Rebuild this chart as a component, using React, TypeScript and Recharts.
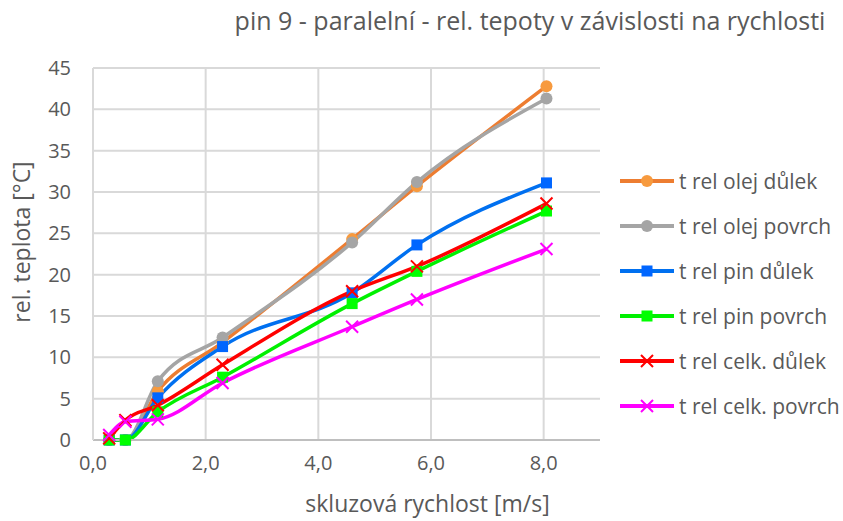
import { CartesianGrid, Label, Legend, Line, LineChart, XAxis, YAxis } from "recharts";

// skluzová rychlost [m/s]
const speeds = [0.2875, 0.575, 1.15, 2.3, 4.6, 5.75, 8.05];

// rel. teplota [°C]
const olejDulek = [0, 0, 5.9, 11.8, 24.3, 30.7, 42.8];
const olejPovrch = [0, 0, 7.1, 12.4, 23.9, 31.2, 41.3];
const pinDulek = [0, 0, 5.1, 11.3, 17.8, 23.6, 31.1];
const pinPovrch = [0, 0, 3.4, 7.6, 16.5, 20.4, 27.7];
const celkDulek = [0.2, 2.4, 4.2, 9.1, 18.0, 21.0, 28.6];
const celkPovrch = [0.6, 2.2, 2.5, 6.9, 13.7, 17.0, 23.1];

const xTicks = [0, 2, 4, 6, 8];
const yTicks = [0, 5, 10, 15, 20, 25, 30, 35, 40, 45];

const title = "pin 9 - paralelní - rel. tepoty v závislosti na rychlosti";
const xTitle = "skluzová rychlost [m/s]";
const yTitle = "rel. teplota [°C]";

type Shape = "circle" | "square" | "cross";

const series: { key: string; name: string; color: string; marker: string; shape: Shape; values: number[] }[] = [
  { key: "olejDulek", name: "t rel olej důlek", color: "#ED7D31", marker: "#F79A3E", shape: "circle", values: olejDulek },
  { key: "olejPovrch", name: "t rel olej povrch", color: "#A5A5A5", marker: "#A5A5A5", shape: "circle", values: olejPovrch },
  { key: "pinDulek", name: "t rel pin důlek", color: "#0070F0", marker: "#0066FF", shape: "square", values: pinDulek },
  { key: "pinPovrch", name: "t rel pin povrch", color: "#00F000", marker: "#00FF00", shape: "square", values: pinPovrch },
  { key: "celkDulek", name: "t rel celk. důlek", color: "#FF0000", marker: "#FF0000", shape: "cross", values: celkDulek },
  { key: "celkPovrch", name: "t rel celk. povrch", color: "#FF00FF", marker: "#FF00FF", shape: "cross", values: celkPovrch },
];

const rows = speeds.map((x, i) => {
  const row: Record<string, number> = { x };
  for (const s of series) row[s.key] = s.values[i];
  return row;
});

const FONT = "'Open Sans', sans-serif";
const TEXT = "#595959";

function Marker({ shape, cx, cy, color }: { shape: Shape; cx: number; cy: number; color: string }) {
  if (shape === "circle") return <circle cx={cx} cy={cy} r={6} fill={color} />;
  if (shape === "square") return <rect x={cx - 5.5} y={cy - 5.5} width={11} height={11} fill={color} />;
  return (
    <path
      d={`M${cx - 6},${cy - 6}L${cx + 6},${cy + 6}M${cx - 6},${cy + 6}L${cx + 6},${cy - 6}`}
      stroke={color}
      strokeWidth={2}
      fill="none"
    />
  );
}

function LegendContent() {
  return (
    <div style={{ fontFamily: FONT, fontSize: 21, color: TEXT }}>
      {series.map((s) => (
        <div key={s.key} style={{ height: 45, display: "flex", alignItems: "center" }}>
          <svg width={60} height={20} style={{ flex: "none" }}>
            <line x1={1} y1={10} x2={55} y2={10} stroke={s.color} strokeWidth={4} />
            <Marker shape={s.shape} cx={28} cy={10} color={s.marker} />
          </svg>
          <span style={{ whiteSpace: "nowrap" }}>{s.name}</span>
        </div>
      ))}
    </div>
  );
}

const fmt = (v: number) => v.toFixed(1).replace(".", ",");

export default function App() {
  return (
    <div style={{ position: "absolute", left: 0, top: 0, width: 843, height: 521, background: "#fff" }}>
      <div
        style={{
          position: "absolute",
          left: 530,
          top: 3,
          transform: "translateX(-50%)",
          whiteSpace: "nowrap",
          fontFamily: FONT,
          fontSize: 25,
          color: TEXT,
        }}
      >
        {title}
      </div>
      <LineChart width={843} height={521} data={rows} margin={{ top: 68, right: 243, left: 10, bottom: 1 }}>
        <CartesianGrid stroke="#D9D9D9" strokeWidth={2} verticalValues={xTicks} horizontalValues={yTicks} />
        <XAxis
          type="number"
          dataKey="x"
          domain={[0, 9]}
          ticks={xTicks}
          tickFormatter={fmt}
          height={80}
          tickSize={0}
          tickMargin={16}
          axisLine={{ stroke: "#BFBFBF", strokeWidth: 2 }}
          tick={{ fill: TEXT, fontSize: 20, fontFamily: FONT }}
        >
          <Label
            value={xTitle}
            position="insideBottom"
            offset={8}
            dx={81}
            style={{ fill: TEXT, fontSize: 23, fontFamily: FONT }}
          />
        </XAxis>
        <YAxis
          type="number"
          domain={[0, 45]}
          ticks={yTicks}
          width={83}
          tickSize={0}
          tickMargin={22}
          axisLine={{ stroke: "#D9D9D9", strokeWidth: 2 }}
          tick={{ fill: TEXT, fontSize: 20, fontFamily: FONT }}
        >
          <Label
            value={yTitle}
            angle={-90}
            position="insideLeft"
            offset={12}
            dy={-12}
            style={{ fill: TEXT, fontSize: 23, fontFamily: FONT, textAnchor: "middle" }}
          />
        </YAxis>
        <Legend
          layout="vertical"
          align="center"
          verticalAlign="middle"
          content={LegendContent}
          wrapperStyle={{ left: 619, top: 158, width: 224 }}
        />
        {series.map((s) => (
          <Line
            key={s.key}
            type="monotone"
            dataKey={s.key}
            name={s.name}
            stroke={s.color}
            strokeWidth={3.5}
            isAnimationActive={false}
            dot={(p: any) => <Marker key={`${s.key}-${p.index}`} shape={s.shape} cx={p.cx} cy={p.cy} color={s.marker} />}
            activeDot={false}
          />
        ))}
      </LineChart>
    </div>
  );
}
